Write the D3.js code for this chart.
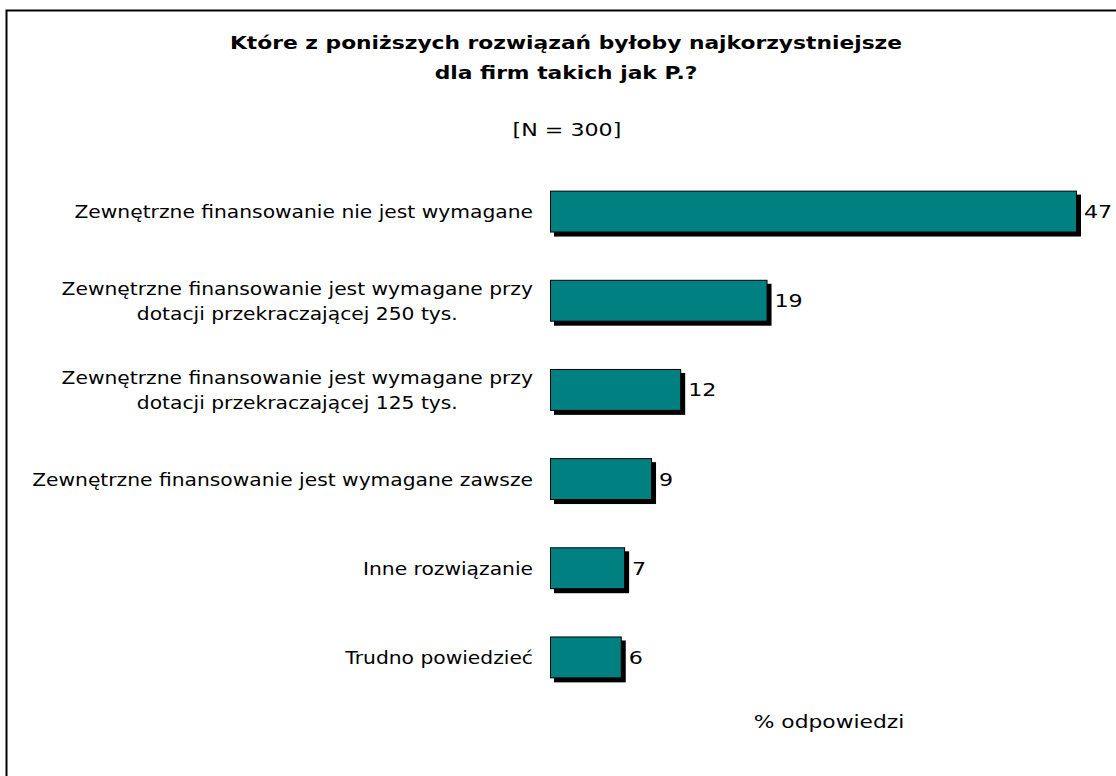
<!DOCTYPE html>
<html>
<head>
<meta charset="utf-8">
<script src="https://cdn.jsdelivr.net/npm/d3@7"></script>
<style>
  body { margin: 0; background: #fff; }
  text { font-family: "DejaVu Sans", Verdana, sans-serif; fill: #000; }
</style>
</head>
<body>
<svg id="chart" width="1116" height="776"></svg>
<script>
// categories (each entry is the lines of one label)
var categories = [
    ["Zewnętrzne finansowanie nie jest wymagane"],
    ["Zewnętrzne finansowanie jest wymagane przy", "dotacji przekraczającej 250 tys."],
    ["Zewnętrzne finansowanie jest wymagane przy", "dotacji przekraczającej 125 tys."],
    ["Zewnętrzne finansowanie jest wymagane zawsze"],
    ["Inne rozwiązanie"],
    ["Trudno powiedzieć"]
];
var values = [47, 19.4, 11.7, 9.1, 6.7, 6.4];
var valueLabels = ["47", "19", "12", "9", "7", "6"];

var titleLines = ["Które z poniższych rozwiązań byłoby najkorzystniejsze", "dla firm takich jak P.?"];
var subtitle = "[N = 300]";
var axisTitle = "% odpowiedzi";

// the original font is wider than DejaVu at the same height,
// so stretch glyphs horizontally by k
function stretch(node, k) {
    var len = node.getComputedTextLength();
    d3.select(node)
        .attr("textLength", len * k)
        .attr("lengthAdjust", "spacingAndGlyphs");
    return len * k;
}

var svg = d3.select("#chart");

// frame, runs off the right and bottom edges
svg.append("rect")
    .attr("x", 6.5).attr("y", 10.5)
    .attr("width", 1200).attr("height", 900)
    .attr("fill", "none").attr("stroke", "#000").attr("stroke-width", 2);

svg.selectAll("text.title")
    .data(titleLines)
    .enter().append("text")
    .attr("class", "title")
    .attr("x", 566)
    .attr("y", function(d, i) { return 49 + i * 30; })
    .attr("text-anchor", "middle")
    .style("font-weight", "bold")
    .style("font-size", "18px")
    .text(function(d) { return d; })
    .each(function() { stretch(this, 1.21); });

svg.append("text")
    .attr("x", 567).attr("y", 136)
    .attr("text-anchor", "middle")
    .style("font-size", "18px")
    .text(subtitle)
    .each(function() { stretch(this, 1.23); });

var x = d3.scaleLinear().domain([0, 47]).range([550, 1077]);
var y = d3.scaleBand()
    .domain(d3.range(categories.length))
    .range([167, 702])
    .paddingInner(0.53)
    .paddingOuter(0.265);

var rows = svg.append("g").selectAll("g.row")
    .data(values)
    .enter().append("g")
    .attr("class", "row");

// shadow
rows.append("rect")
    .attr("x", x(0) + 4)
    .attr("y", function(d, i) { return y(i) + 4; })
    .attr("width", function(d) { return x(d) - x(0); })
    .attr("height", y.bandwidth())
    .attr("fill", "#000");

rows.append("rect")
    .attr("x", x(0) + 0.5)
    .attr("y", function(d, i) { return y(i) + 0.5; })
    .attr("width", function(d) { return x(d) - x(0) - 1; })
    .attr("height", y.bandwidth() - 1)
    .attr("fill", "#008080")
    .attr("stroke", "#000")
    .attr("stroke-width", 1);

rows.append("text")
    .attr("x", function(d) { return x(d) + 7; })
    .attr("y", function(d, i) { return y(i) + y.bandwidth() / 2; })
    .attr("dy", "0.36em")
    .style("font-size", "18px")
    .text(function(d, i) { return valueLabels[i]; })
    .each(function() { stretch(this, 1.23); });

// category labels: block right-aligned, lines centred on each other
categories.forEach(function(lines, i) {
    var t = svg.append("text")
        .attr("text-anchor", "middle")
        .style("font-size", "18px");
    var spans = t.selectAll("tspan")
        .data(lines)
        .enter().append("tspan")
        .text(function(d) { return d; });
    var maxW = 0;
    spans.each(function() { maxW = Math.max(maxW, stretch(this, 1.125)); });
    var cx = 533 - maxW / 2;
    var cy = y(i) + y.bandwidth() / 2;
    var lh = 25;
    spans.attr("x", cx)
        .attr("y", function(d, j) { return cy + (j - (lines.length - 1) / 2) * lh; })
        .attr("dy", "0.36em");
});

svg.append("text")
    .attr("x", 829).attr("y", 728)
    .attr("text-anchor", "middle")
    .style("font-size", "18px")
    .text(axisTitle)
    .each(function() { stretch(this, 1.21); });
</script>
</body>
</html>
